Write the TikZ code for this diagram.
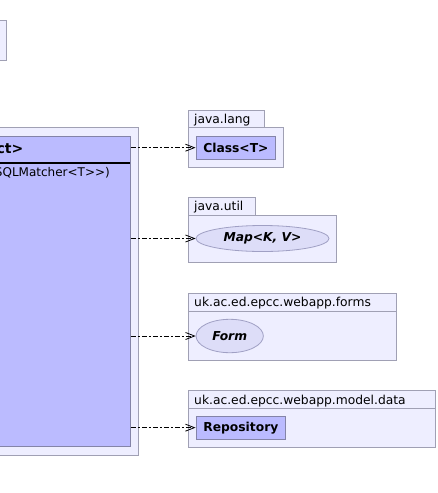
\documentclass[tikz,border=0pt]{standalone}
\usepackage{fontspec}
\setmainfont{DejaVu Sans}
\usetikzlibrary{arrows.meta,shapes.geometric}
\definecolor{pkgfill}{HTML}{EEEEFF}
\definecolor{pkgdraw}{HTML}{A0A0B4}
\definecolor{clsfill}{HTML}{BBBBFF}
\definecolor{clsdraw}{HTML}{8484A8}
\definecolor{ifill}{HTML}{DDDDF8}
\definecolor{idraw}{HTML}{A0A0C4}
\tikzset{
  pkg/.style={draw=pkgdraw, fill=pkgfill, line width=1pt, inner sep=0pt},
  cls/.style={draw=clsdraw, fill=clsfill, line width=1pt, inner sep=0pt,
    font=\fontsize{12.3}{14}\selectfont\bfseries},
  iface/.style={ellipse, draw=idraw, fill=ifill, line width=0.8pt, inner sep=0pt,
    font=\fontsize{12.3}{14}\selectfont\bfseries\itshape},
  pkglabel/.style={anchor=base west, inner sep=0pt, font=\fontsize{12.3}{14}\selectfont},
  dep/.style={line width=0.8pt, dash pattern=on 5pt off 2pt on 2pt off 2pt,
    -{Straight Barb[length=9pt,width=7pt]}},
}
\begin{document}
\begin{tikzpicture}[x=1pt,y=-1pt]
\useasboundingbox (0,0) rectangle (437,493);
\clip (0,0) rectangle (437,493);
% partial package at top left
\draw[pkg] (-10,20.7) rectangle (6.7,60);
% large package and class
\draw[pkg] (-10,127) rectangle (138,455);
\node[cls, minimum width=150pt, minimum height=310.7pt] (main) at (55.35,291.35) {};
\draw[line width=2pt] (-10,162.7) -- (130.2,162.7);
\node[anchor=base east, inner sep=0pt, font=\fontsize{14}{16}\selectfont\bfseries] (title) at (23.5,153.5) {ct>};
\node[anchor=base east, inner sep=0pt, font=\fontsize{12}{14}\selectfont] (ctor) at (110,176) {SQLMatcher<T>{}>)};
% java.lang
\draw[pkg] (188.3,110) rectangle (264.3,127.3);
\draw[pkg] (188.3,127.3) rectangle (283.3,167.7);
\node[pkglabel] (l1) at (194,123.3) {java.lang};
\node[cls, minimum width=79.7pt, minimum height=23.3pt] (klass) at (235.85,147.7) {Class<T>};
% java.util
\draw[pkg] (188.3,197.3) rectangle (255.7,215);
\draw[pkg] (188.3,215) rectangle (336,262.7);
\node[pkglabel] (l2) at (194,210.5) {java.util};
\node[iface, minimum width=133pt, minimum height=26pt] (map) at (262.5,238.5) {Map<K, V>};
% forms
\draw[pkg] (188.3,293.3) rectangle (396.7,311);
\draw[pkg] (188.3,311) rectangle (396.7,360);
\node[pkglabel] (l3) at (194,306) {uk.ac.ed.epcc.webapp.forms};
\node[iface, minimum width=67.3pt, minimum height=33.4pt] (form) at (229.7,336) {Form};
% model.data
\draw[pkg] (188.3,390) rectangle (435,408.3);
\draw[pkg] (188.3,408.3) rectangle (435,447.7);
\node[pkglabel] (l4) at (194,404.3) {uk.ac.ed.epcc.webapp.model.data};
\node[cls, minimum width=89.7pt, minimum height=23.3pt] (repo) at (240.85,427.65) {Repository};
% dependencies
\draw[dep] (main.east |- klass.west) -- (klass.west);
\draw[dep] (main.east |- map.west) -- (map.west);
\draw[dep] (main.east |- form.west) -- (form.west);
\draw[dep] (main.east |- repo.west) -- (repo.west);
\end{tikzpicture}
\end{document}
